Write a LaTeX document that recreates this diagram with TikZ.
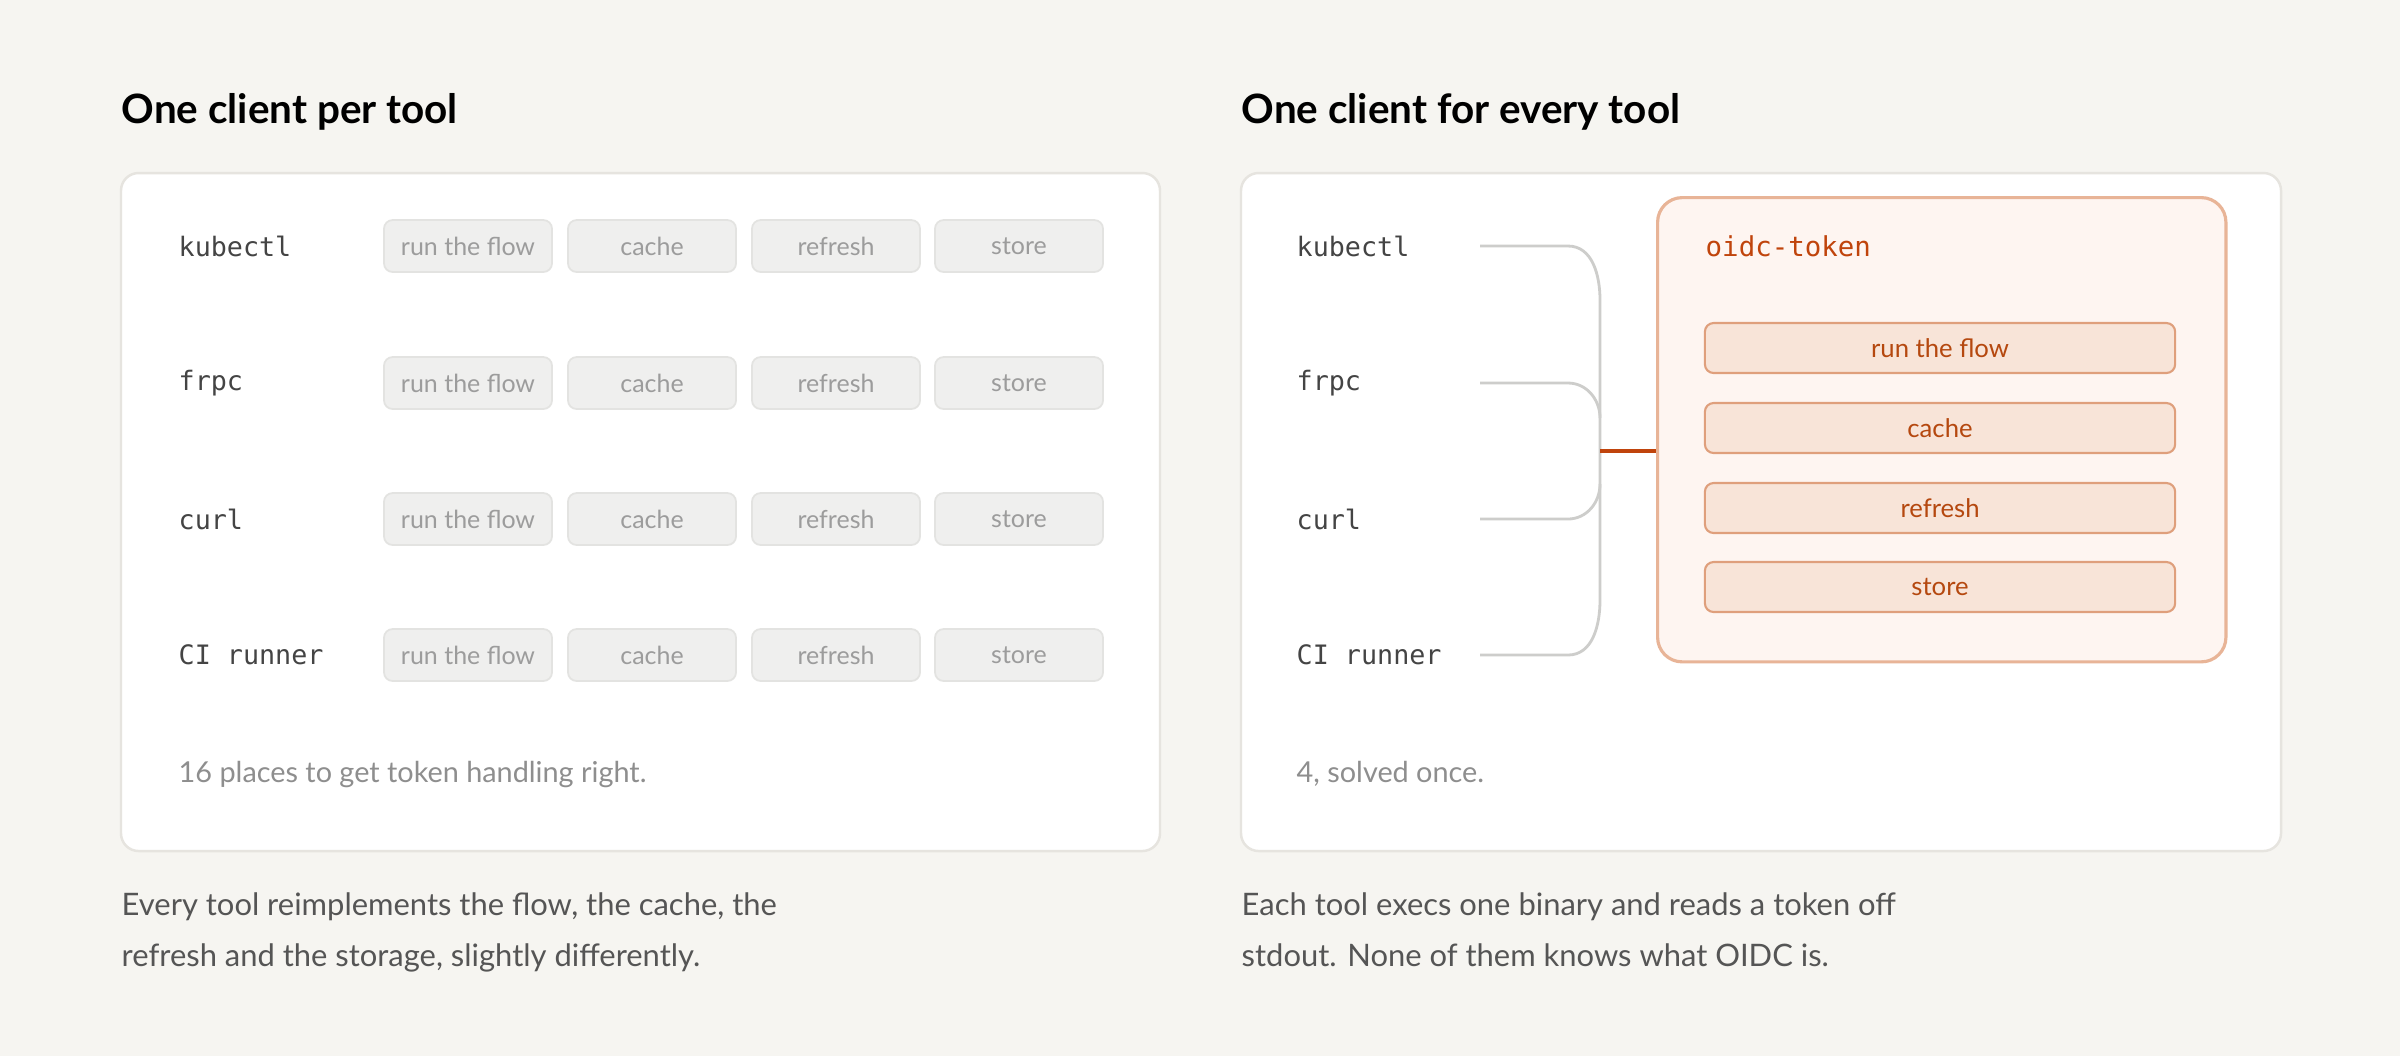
\documentclass[tikz,border=0pt]{standalone}
\usepackage{fontspec}
\setmainfont{Lato}
\newfontfamily\monof{DejaVu Sans Mono}
\newfontfamily\headf{Lato}
\definecolor{bg}{HTML}{F6F5F1}
\definecolor{cardb}{HTML}{E6E4DF}
\definecolor{pillf}{HTML}{EFEFEE}
\definecolor{pillb}{HTML}{E3E3E1}
\definecolor{pillt}{HTML}{9C9C9C}
\definecolor{toolt}{HTML}{444444}
\definecolor{notet}{HTML}{8E8E8E}
\definecolor{capt}{HTML}{555555}
\definecolor{obf}{HTML}{FEF5F1}
\definecolor{obb}{HTML}{E8B497}
\definecolor{opf}{HTML}{F8E4D8}
\definecolor{opb}{HTML}{DF9F7C}
\definecolor{opt}{HTML}{B5480F}
\definecolor{ot}{HTML}{C0440C}
\definecolor{brk}{HTML}{CDCDCB}
\begin{document}
\begin{tikzpicture}[x=0.01cm,y=-0.01cm,
  card/.style={draw=cardb,line width=0.7pt,fill=white,rounded corners=5pt},
  title/.style={anchor=west,font=\headf\bfseries\fontsize{11.5}{13}\selectfont,text=black,inner sep=0},
  tool/.style={anchor=west,font=\monof\fontsize{7.6}{9}\selectfont,text=toolt,inner sep=0},
  pill/.style={draw=pillb,fill=pillf,line width=0.5pt,rounded corners=2.5pt,minimum width=1.68cm,minimum height=0.52cm,text=pillt,font=\fontsize{7.1}{8}\selectfont},
  note/.style={anchor=west,font=\fontsize{8.2}{9}\selectfont,text=notet,inner sep=0},
  captxt/.style={anchor=north west,font=\fontsize{8.8}{14.4}\selectfont,text=capt,align=left,inner sep=0},
  opill/.style={draw=opb,fill=opf,line width=0.6pt,rounded corners=2.5pt,text=opt,font=\fontsize{7.3}{8}\selectfont,minimum width=4.70cm,minimum height=0.5cm},
  brk/.style={draw=brk,line width=0.8pt}]
\fill[bg] (0,0) rectangle (2400,1056);
\node[title] (t1) at (121,112) {One client per tool};
\node[title] (t2) at (1241,112) {One client for every tool};
\draw[card] (121,173) rectangle (1160,851);
\draw[card] (1241,173) rectangle (2281,851);
% left
\foreach \n/\lab/\y in {a/kubectl/246,b/frpc/383,c/curl/519,d/CI runner/655}{
  \node[tool] (L\n) at (178,\y) {\lab};
  \foreach \x/\t/\k in {468/run the flow/1,652/cache/2,836/refresh/3,1019/store/4}{
    \node[pill] (P\n\k) at (\x,\y) {\t};
  }
}
\node[note] (n1) at (178,774) {16 places to get token handling right.};
\node[captxt] (c1) at (121,892) {Every tool reimplements the flow, the cache, the\\refresh and the storage, slightly differently.};
% right
\foreach \n/\lab/\y in {a/kubectl/246,b/frpc/383,c/curl/519,d/CI runner/655}{
  \node[tool] (R\n) at (1296,\y) {\lab};
  \coordinate (E\n) at (1480,\y);
}
\coordinate (J) at (1600,451);
\draw[brk] (Ea) -- (1568,246) to[out=0,in=90] (1600,300) -- (1600,600) to[out=-90,in=0] (1568,655) -- (Ed);
\draw[brk] (Eb) -- (1568,383) to[out=0,in=90] (1600,418);
\draw[brk] (Ec) -- (1568,519) to[out=0,in=-90] (1600,484);
\node[draw=obb,fill=obf,line width=0.9pt,rounded corners=7pt,inner sep=0,anchor=north west,minimum width=5.68cm,minimum height=4.64cm] (ob) at (1656,196) {};
\draw[draw=ot,line width=1.1pt] (J) -- (ob.west|-J);
\node[anchor=west,font=\monof\fontsize{7.8}{9}\selectfont,text=ot,inner sep=0] (otk) at (1705,246) {oidc-token};
\foreach \y/\t/\k in {348/run the flow/1,428/cache/2,508/refresh/3,587/store/4}{
  \node[opill] (O\k) at (1940,\y) {\t};
}
\node[note] (n2) at (1296,774) {4, solved once.};
\node[captxt] (c2) at (1241,892) {Each tool execs one binary and reads a token off\\stdout. None of them knows what OIDC is.};
\end{tikzpicture}
\end{document}
